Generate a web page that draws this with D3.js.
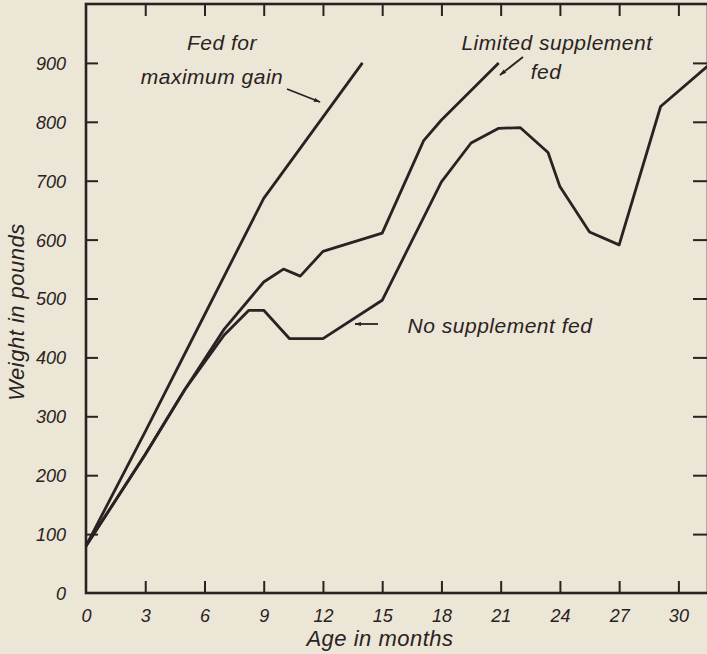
<!DOCTYPE html>
<html>
<head>
<meta charset="utf-8">
<script src="https://cdn.jsdelivr.net/npm/d3@7"></script>
<style>
  body { margin: 0; background: #ebe6d6; }
  svg text { font-family: "Liberation Sans", "DejaVu Sans", sans-serif; font-style: italic; fill: #2a2222; }
</style>
</head>
<body>
<div id="chart-area"></div>
<script>
// Data (age in months, weight in pounds)
const maxGainAge = [0, 3, 6, 9, 14]
const maxGainWeight = [80, 274, 472, 670, 900]

const limitedAge = [0, 3, 5, 7, 9, 10, 10.85, 12, 15, 17.1, 18, 20.9]
const limitedWeight = [80, 235, 345, 448, 528, 550, 538, 580, 611, 768, 803, 900]

const noneAge = [0, 3, 5, 7, 8.25, 9, 10.3, 12, 15, 18, 19.5, 20.9, 22, 23.4, 24, 25.5, 27, 29.1, 31.5]
const noneWeight = [80, 235, 345, 438, 480, 480, 432, 432, 497, 698, 764, 789, 790, 748, 690, 613, 591, 826, 895]

const xTicks = [0, 3, 6, 9, 12, 15, 18, 21, 24, 27, 30]
const yTicks = [0, 100, 200, 300, 400, 500, 600, 700, 800, 900]

const W = 707, H = 654
const INK = "#2a2222"

const svg = d3.select("#chart-area").append("svg")
	.attr("width", W)
	.attr("height", H)

svg.append("rect").attr("width", W).attr("height", H).attr("fill", "#ebe6d6")

// Scales
const x = d3.scaleLinear().domain([0, 31.5]).range([86, 708])
const y = d3.scaleLinear().domain([0, 1000]).range([593, 4])

// Frame
svg.append("rect")
	.attr("x", x(0)).attr("y", y(1000))
	.attr("width", x(31.5) - x(0)).attr("height", y(0) - y(1000))
	.attr("fill", "none").attr("stroke", INK).attr("stroke-width", 2.6)

// Axes with inward ticks
const xAxisBottom = svg.append("g")
	.attr("transform", `translate(0, ${y(0)})`)
	.call(d3.axisBottom(x).tickValues(xTicks).tickSize(-12).tickPadding(16).tickFormat(d => d))
const xAxisTop = svg.append("g")
	.attr("transform", `translate(0, ${y(1000)})`)
	.call(d3.axisTop(x).tickValues(xTicks.slice(1)).tickSize(-12).tickFormat(""))
const yAxisLeft = svg.append("g")
	.attr("transform", `translate(${x(0)}, 0)`)
	.call(d3.axisLeft(y).tickValues(yTicks).tickSize(-12).tickPadding(20).tickFormat(d => d))
const yAxisRight = svg.append("g")
	.attr("transform", `translate(${x(31.5) - 1}, 0)`)
	.call(d3.axisRight(y).tickValues(yTicks.slice(1)).tickSize(-14).tickFormat(""))

svg.selectAll(".domain").remove()
svg.selectAll(".tick line").attr("stroke", INK).attr("stroke-width", 2)
svg.selectAll(".tick text")
	.attr("font-size", "18px")
	.style("font-family", "'Liberation Sans', sans-serif")
	.style("font-style", "italic")
	.attr("fill", INK)
yAxisLeft.selectAll(".tick text").attr("dy", "0.36em")
xAxisBottom.selectAll(".tick line").filter(d => d === 0).remove()
yAxisLeft.selectAll(".tick line").filter(d => d === 0).remove()

// Lines
const line = d3.line().x(d => x(d[0])).y(d => y(d[1]))
const series = [
	d3.zip(maxGainAge, maxGainWeight),
	d3.zip(limitedAge, limitedWeight),
	d3.zip(noneAge, noneWeight)
]
svg.append("g").selectAll("path")
	.data(series)
	.join("path")
	.attr("d", line)
	.attr("fill", "none")
	.attr("stroke", INK)
	.attr("stroke-width", 2.8)
	.attr("stroke-linejoin", "round")

// Arrowhead
svg.append("defs").append("marker")
	.attr("id", "arrow")
	.attr("viewBox", "0 0 10 10")
	.attr("refX", 9).attr("refY", 5)
	.attr("markerWidth", 7).attr("markerHeight", 7)
	.attr("markerUnits", "userSpaceOnUse")
	.attr("orient", "auto")
	.append("path")
	.attr("d", "M0,2 L10,5 L0,8 Z")
	.attr("fill", INK)

const arrows = [
	[[287, 89], [320, 102]],
	[[523, 57], [500, 75]],
	[[378, 324], [355, 324]]
]
svg.append("g").selectAll("path")
	.data(arrows)
	.join("path")
	.attr("d", d => `M${d[0][0]},${d[0][1]} L${d[1][0]},${d[1][1]}`)
	.attr("stroke", INK)
	.attr("stroke-width", 1.8)
	.attr("marker-end", "url(#arrow)")

// Annotations
const notes = [
	{ text: "Fed for", x: 222, y: 50 },
	{ text: "maximum gain", x: 212, y: 84 },
	{ text: "Limited supplement", x: 557, y: 50 },
	{ text: "fed", x: 546, y: 79 },
	{ text: "No supplement fed", x: 500, y: 333 }
]
svg.append("g").selectAll("text")
	.data(notes)
	.join("text")
	.attr("x", d => d.x)
	.attr("y", d => d.y)
	.attr("text-anchor", "middle")
	.attr("font-size", "21px")
	.attr("letter-spacing", "0.5px")
	.text(d => d.text)

// Axis labels
svg.append("text")
	.attr("x", 380)
	.attr("y", 646)
	.attr("text-anchor", "middle")
	.attr("font-size", "22px")
	.attr("letter-spacing", "0.5px")
	.text("Age in months")

svg.append("text")
	.attr("transform", "translate(24, 312) rotate(-90)")
	.attr("text-anchor", "middle")
	.attr("font-size", "22px")
	.attr("letter-spacing", "0.5px")
	.text("Weight in pounds")
</script>
</body>
</html>
